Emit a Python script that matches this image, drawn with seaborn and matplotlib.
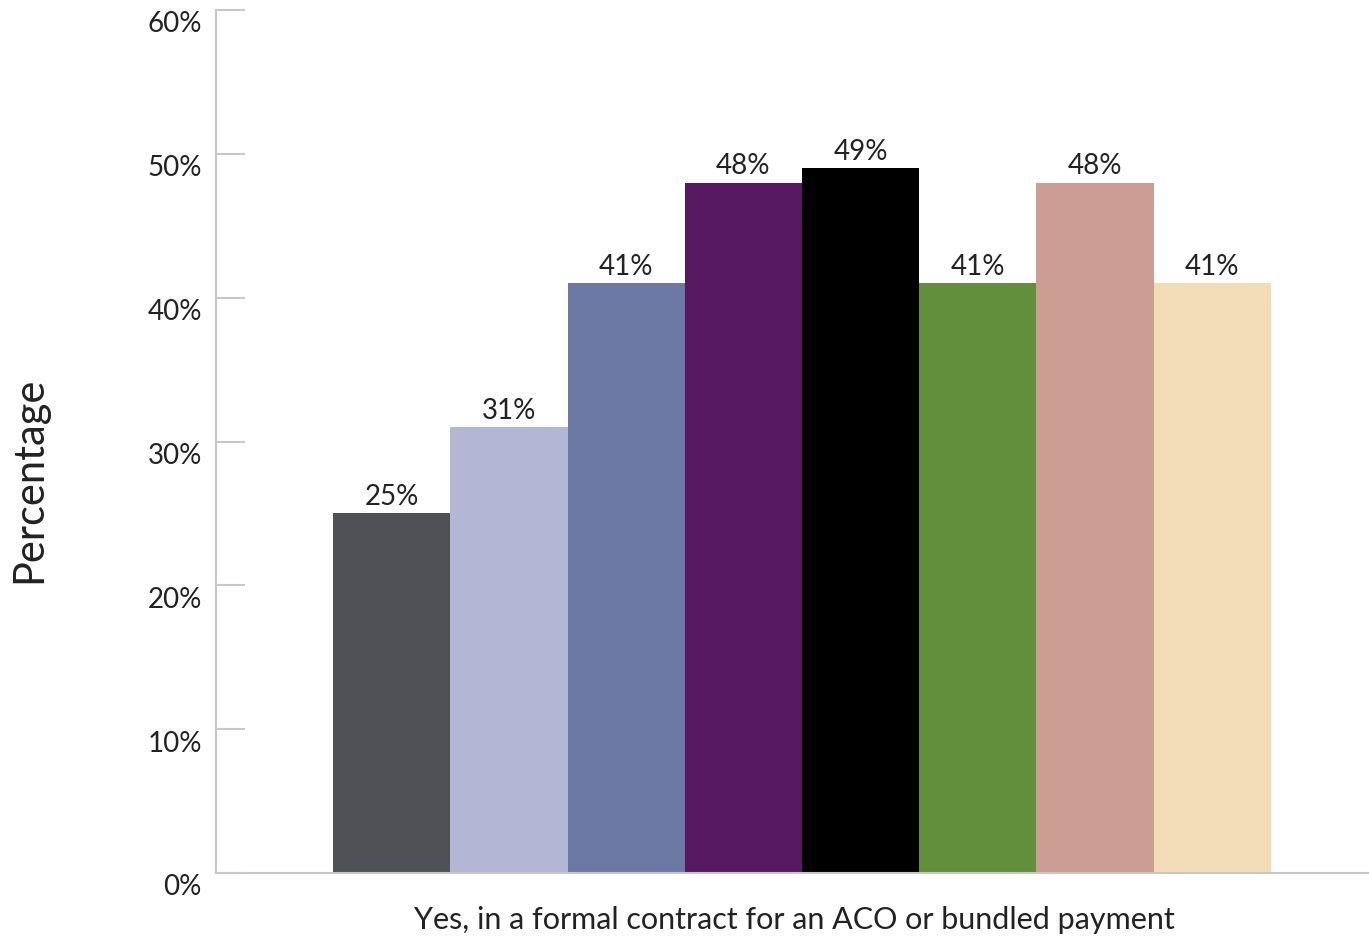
import matplotlib
matplotlib.use("Agg")
import matplotlib.pyplot as plt
import matplotlib.transforms as mtransforms
import seaborn as sns
import pandas as pd

category = ["Yes, in a formal contract for an ACO or bundled payment"]
groups = ["Group 1", "Group 2", "Group 3", "Group 4", "Group 5", "Group 6", "Group 7", "Group 8"]
values = [25, 31, 41, 48, 49, 41, 48, 41]
colors = ["#505156", "#b3b7d5", "#6d79a5", "#561961", "#000000", "#628f3b", "#cc9d93", "#f2dcb6"]
yticks = [0, 10, 20, 30, 40, 50, 60]
ytick_labels = ["0%", "10%", "20%", "30%", "40%", "50%", "60%"]

df = pd.DataFrame({"cat": category * len(groups), "group": groups, "value": values})

sns.set_style("white")
plt.rcParams["font.family"] = ["Lato", "DejaVu Sans"]

fig = plt.figure(figsize=(13.69, 9.37), dpi=100)
ax = fig.add_axes([216 / 1369, 1 - 874 / 937, (1388 - 216) / 1369, (874 - 11) / 937])

sns.barplot(data=df, x="cat", y="value", hue="group", palette=colors,
            width=0.8, dodge=True, legend=False, ax=ax, saturation=1, linewidth=0)

for cont in ax.containers:
    ax.bar_label(cont, labels=[f"{v:.0f}%" for v in cont.datavalues],
                 padding=3, fontsize=20, color="#222222")

ax.set_xlim(-0.5, 0.5)
ax.set_ylim(0, 60)
ax.set_yticks(yticks)
ax.set_yticklabels(ytick_labels, fontsize=20, color="#222222")
ax.tick_params(axis="y", left=True, direction="in", length=21, width=1.5,
               color="#c8c8c8", pad=-2)
offset = mtransforms.ScaledTranslation(-0.17, -0.11, fig.dpi_scale_trans)
for lbl in ax.get_yticklabels():
    lbl.set_transform(lbl.get_transform() + offset)
ax.tick_params(axis="x", length=0, labelbottom=False)

ax.set_xlabel(category[0], fontsize=22, color="#222222")
ax.xaxis.set_label_coords((794 - 216) / (1388 - 216), -0.037)
ax.xaxis.label.set_va("top")
ax.set_ylabel("Percentage", fontsize=30, color="#222222")
ax.yaxis.set_label_coords(-(216 - 29) / (1388 - 216), (874 - 480) / 863)
ax.yaxis.label.set_va("center")

for s in ["top", "right"]:
    ax.spines[s].set_visible(False)
for s in ["left", "bottom"]:
    ax.spines[s].set_color("#c8c8c8")
    ax.spines[s].set_linewidth(1.5)

fig.savefig("out.png", dpi=100)
